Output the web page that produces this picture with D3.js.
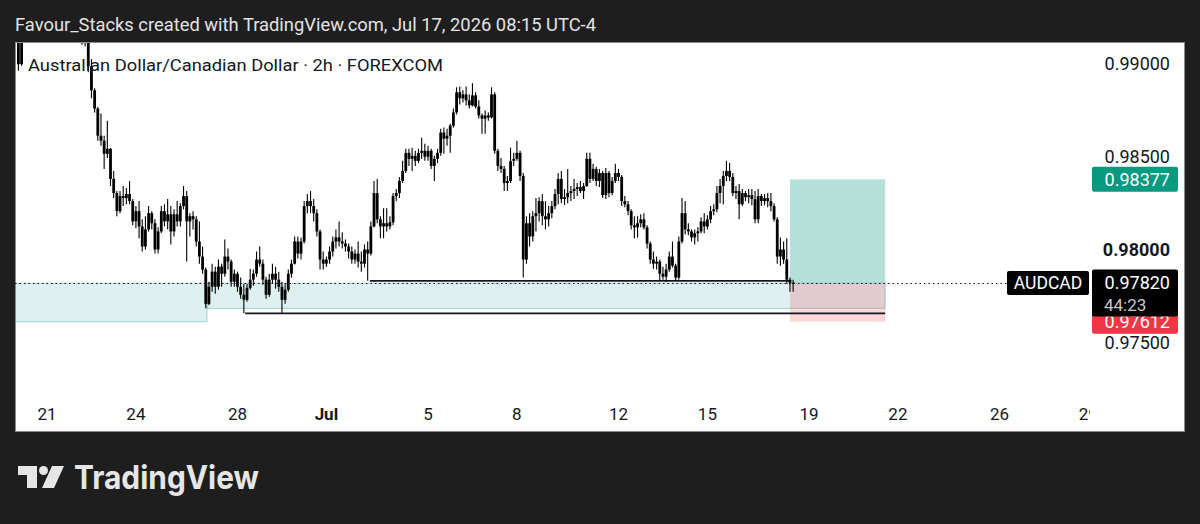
<!DOCTYPE html>
<html><head><meta charset="utf-8">
<script src="https://cdn.jsdelivr.net/npm/d3@7"></script>
<style>html,body{margin:0;padding:0;background:#1e1e1e;overflow:hidden}</style>
</head><body>
<svg id="c" width="1200" height="524"></svg>
<script>
// ---------- DATA ----------
const firstIndex = -9;  // bar index of first candle (index 0 = Jun 21 open)
// [open, high, low, close] per 2h bar
const candles = [
[0.99200,0.99230,0.98960,0.98995],[0.98995,0.99210,0.98985,0.99180],[0.99180,0.99240,0.99150,0.99220],
[0.99220,0.99280,0.99200,0.99260],[0.99260,0.99290,0.99210,0.99230],[0.99230,0.99270,0.99190,0.99250],
[0.99250,0.99310,0.99230,0.99290],[0.99290,0.99320,0.99250,0.99270],[0.99270,0.99300,0.99220,0.99240],
[0.99240,0.99280,0.99210,0.99260],[0.99260,0.99300,0.99230,0.99280],[0.99280,0.99330,0.99250,0.99310],
[0.99310,0.99340,0.99270,0.99290],[0.99290,0.99320,0.99240,0.99260],[0.99260,0.99290,0.99200,0.99220],
[0.99220,0.99260,0.99180,0.99240],[0.99240,0.99270,0.99190,0.99210],[0.99210,0.99240,0.99160,0.99190],
[0.99190,0.99220,0.99140,0.99170],[0.99170,0.99200,0.99110,0.99140],[0.99140,0.99180,0.99100,0.99130],
[0.99130,0.99160,0.99090,0.99110],[0.99110,0.99125,0.98952,0.98985],[0.98985,0.99022,0.98812,0.98855],
[0.98855,0.98866,0.98736,0.98757],[0.98757,0.98765,0.98584,0.98611],[0.98611,0.98730,0.98557,0.98584],
[0.98584,0.98611,0.98433,0.98514],[0.98514,0.98692,0.98492,0.98541],[0.98541,0.98545,0.98341,0.98379],
[0.98379,0.98422,0.98276,0.98303],[0.98303,0.98314,0.98179,0.98206],[0.98206,0.98314,0.98195,0.98287],
[0.98287,0.98341,0.98233,0.98276],[0.98276,0.98330,0.98243,0.98298],[0.98298,0.98368,0.98243,0.98260],
[0.98260,0.98271,0.98130,0.98151],[0.98151,0.98233,0.98114,0.98206],[0.98206,0.98260,0.98060,0.98124],
[0.98124,0.98162,0.97989,0.98016],[0.98016,0.98179,0.98000,0.98108],[0.98108,0.98233,0.98097,0.98195],
[0.98195,0.98206,0.98108,0.98141],[0.98141,0.98162,0.97978,0.98000],[0.98000,0.98119,0.97978,0.98097],
[0.98097,0.98233,0.98087,0.98206],[0.98206,0.98243,0.98124,0.98151],[0.98151,0.98271,0.98108,0.98189],
[0.98189,0.98233,0.98027,0.98097],[0.98097,0.98216,0.98070,0.98189],[0.98189,0.98260,0.98124,0.98151],
[0.98151,0.98249,0.98124,0.98233],[0.98233,0.98341,0.98216,0.98287],[0.98287,0.98314,0.97935,0.98151],
[0.98151,0.98195,0.98070,0.98179],[0.98179,0.98206,0.98108,0.98162],[0.98162,0.98179,0.98016,0.98043],
[0.98043,0.98151,0.97924,0.97962],[0.97962,0.98016,0.97870,0.97892],[0.97892,0.97903,0.97684,0.97708],
[0.97708,0.97827,0.97700,0.97800],[0.97800,0.97924,0.97773,0.97881],[0.97881,0.97908,0.97762,0.97800],
[0.97800,0.97946,0.97784,0.97908],[0.97908,0.97924,0.97800,0.97870],[0.97870,0.98054,0.97854,0.97962],
[0.97962,0.98005,0.97892,0.97935],[0.97935,0.97946,0.97800,0.97827],[0.97827,0.97892,0.97800,0.97870],
[0.97870,0.97881,0.97773,0.97800],[0.97800,0.97849,0.97735,0.97757],[0.97757,0.97816,0.97657,0.97730],
[0.97730,0.97816,0.97719,0.97794],[0.97794,0.97897,0.97784,0.97838],[0.97838,0.97892,0.97805,0.97870],
[0.97870,0.97989,0.97854,0.97946],[0.97946,0.98016,0.97908,0.97924],[0.97924,0.97946,0.97811,0.97838],
[0.97838,0.97854,0.97735,0.97757],[0.97757,0.97870,0.97746,0.97838],[0.97838,0.97924,0.97816,0.97870],
[0.97870,0.97908,0.97789,0.97838],[0.97838,0.97881,0.97773,0.97800],[0.97800,0.97827,0.97660,0.97730],
[0.97730,0.97816,0.97708,0.97784],[0.97784,0.97892,0.97773,0.97870],[0.97870,0.97946,0.97849,0.97924],
[0.97924,0.98070,0.97919,0.98043],[0.98043,0.98070,0.97951,0.97978],[0.97978,0.98065,0.97946,0.98043],
[0.98043,0.98260,0.98032,0.98233],[0.98233,0.98298,0.98195,0.98260],[0.98260,0.98314,0.98195,0.98233],
[0.98233,0.98271,0.98151,0.98195],[0.98195,0.98216,0.98070,0.98097],[0.98097,0.98108,0.97892,0.97946],
[0.97946,0.97989,0.97892,0.97924],[0.97924,0.97962,0.97908,0.97946],[0.97946,0.98016,0.97924,0.97989],
[0.97989,0.98070,0.97962,0.98043],[0.98043,0.98108,0.98005,0.98065],[0.98065,0.98151,0.98016,0.98043],
[0.98043,0.98092,0.98005,0.98032],[0.98032,0.98054,0.97989,0.98016],[0.98016,0.98032,0.97951,0.97989],
[0.97989,0.98016,0.97924,0.97946],[0.97946,0.98000,0.97924,0.97978],[0.97978,0.98043,0.97903,0.97935],
[0.97935,0.97989,0.97881,0.97924],[0.97924,0.98027,0.97903,0.98000],[0.98000,0.98043,0.97832,0.97978],
[0.97978,0.98151,0.97968,0.98124],[0.98124,0.98368,0.98119,0.98303],[0.98303,0.98379,0.98141,0.98162],
[0.98162,0.98179,0.98060,0.98124],[0.98124,0.98222,0.98060,0.98141],[0.98141,0.98222,0.98097,0.98124],
[0.98124,0.98179,0.98108,0.98146],[0.98146,0.98303,0.98130,0.98287],[0.98287,0.98325,0.98260,0.98303],
[0.98303,0.98390,0.98276,0.98368],[0.98368,0.98476,0.98357,0.98422],[0.98422,0.98541,0.98411,0.98519],
[0.98519,0.98541,0.98449,0.98487],[0.98487,0.98546,0.98422,0.98503],[0.98503,0.98530,0.98449,0.98476],
[0.98476,0.98541,0.98465,0.98519],[0.98519,0.98600,0.98487,0.98530],[0.98530,0.98568,0.98476,0.98498],
[0.98498,0.98557,0.98476,0.98530],[0.98530,0.98541,0.98433,0.98449],[0.98449,0.98503,0.98368,0.98487],
[0.98487,0.98541,0.98465,0.98519],[0.98519,0.98649,0.98503,0.98628],[0.98628,0.98655,0.98514,0.98595],
[0.98595,0.98649,0.98557,0.98611],[0.98611,0.98676,0.98519,0.98665],[0.98665,0.98757,0.98655,0.98736],
[0.98736,0.98871,0.98725,0.98844],[0.98844,0.98876,0.98779,0.98812],[0.98812,0.98855,0.98790,0.98833],
[0.98833,0.98876,0.98774,0.98801],[0.98801,0.98833,0.98757,0.98774],[0.98774,0.98893,0.98768,0.98828],
[0.98828,0.98844,0.98757,0.98768],[0.98768,0.98801,0.98703,0.98720],[0.98720,0.98730,0.98622,0.98703],
[0.98703,0.98747,0.98622,0.98720],[0.98720,0.98736,0.98692,0.98709],[0.98709,0.98871,0.98703,0.98833],
[0.98833,0.98844,0.98514,0.98530],[0.98530,0.98541,0.98422,0.98449],[0.98449,0.98492,0.98411,0.98433],
[0.98433,0.98449,0.98314,0.98357],[0.98357,0.98395,0.98314,0.98368],[0.98368,0.98546,0.98357,0.98476],
[0.98476,0.98519,0.98449,0.98487],[0.98487,0.98584,0.98476,0.98519],[0.98519,0.98530,0.98368,0.98395],
[0.98395,0.98411,0.97850,0.97946],[0.97946,0.98179,0.97924,0.98141],[0.98141,0.98195,0.98016,0.98070],
[0.98070,0.98206,0.98043,0.98179],[0.98179,0.98276,0.98097,0.98195],[0.98195,0.98281,0.98151,0.98260],
[0.98260,0.98298,0.98130,0.98179],[0.98179,0.98260,0.98108,0.98162],[0.98162,0.98233,0.98124,0.98195],
[0.98195,0.98260,0.98168,0.98233],[0.98233,0.98325,0.98216,0.98298],[0.98298,0.98411,0.98243,0.98379],
[0.98379,0.98422,0.98249,0.98271],[0.98271,0.98325,0.98238,0.98281],[0.98281,0.98433,0.98249,0.98303],
[0.98303,0.98341,0.98260,0.98314],[0.98314,0.98379,0.98271,0.98325],[0.98325,0.98357,0.98287,0.98335],
[0.98335,0.98368,0.98303,0.98314],[0.98314,0.98357,0.98271,0.98341],[0.98341,0.98519,0.98335,0.98487],
[0.98487,0.98519,0.98357,0.98379],[0.98379,0.98460,0.98368,0.98433],[0.98433,0.98444,0.98341,0.98368],
[0.98368,0.98433,0.98335,0.98411],[0.98411,0.98422,0.98276,0.98292],[0.98292,0.98438,0.98271,0.98411],
[0.98411,0.98422,0.98281,0.98303],[0.98303,0.98390,0.98292,0.98368],[0.98368,0.98460,0.98357,0.98411],
[0.98411,0.98433,0.98368,0.98390],[0.98390,0.98400,0.98233,0.98260],[0.98260,0.98287,0.98227,0.98243],
[0.98243,0.98260,0.98184,0.98206],[0.98206,0.98216,0.98108,0.98130],[0.98130,0.98179,0.98060,0.98119],
[0.98119,0.98179,0.98065,0.98141],[0.98141,0.98189,0.98119,0.98162],[0.98162,0.98195,0.98108,0.98119],
[0.98119,0.98130,0.98005,0.98032],[0.98032,0.98043,0.97924,0.97946],[0.97946,0.97989,0.97897,0.97924],
[0.97924,0.97962,0.97892,0.97935],[0.97935,0.97946,0.97832,0.97870],[0.97870,0.97908,0.97838,0.97854],
[0.97854,0.97924,0.97827,0.97892],[0.97892,0.97989,0.97881,0.97962],[0.97962,0.98043,0.97903,0.97913],
[0.97913,0.97924,0.97832,0.97849],[0.97849,0.98070,0.97838,0.98043],[0.98043,0.98276,0.98032,0.98195],
[0.98195,0.98260,0.98081,0.98108],[0.98108,0.98141,0.98076,0.98097],[0.98097,0.98108,0.98043,0.98065],
[0.98065,0.98108,0.98027,0.98087],[0.98087,0.98119,0.98043,0.98097],[0.98097,0.98173,0.98087,0.98151],
[0.98151,0.98195,0.98087,0.98124],[0.98124,0.98184,0.98108,0.98162],[0.98162,0.98233,0.98141,0.98206],
[0.98206,0.98243,0.98184,0.98216],[0.98216,0.98341,0.98200,0.98303],[0.98303,0.98379,0.98249,0.98341],
[0.98341,0.98422,0.98243,0.98395],[0.98395,0.98476,0.98368,0.98422],[0.98422,0.98465,0.98368,0.98390],
[0.98390,0.98411,0.98287,0.98303],[0.98303,0.98341,0.98271,0.98314],[0.98314,0.98352,0.98162,0.98243],
[0.98243,0.98325,0.98233,0.98303],[0.98303,0.98314,0.98260,0.98281],[0.98281,0.98325,0.98249,0.98292],
[0.98292,0.98325,0.98238,0.98271],[0.98271,0.98314,0.98141,0.98162],[0.98162,0.98325,0.98141,0.98287],
[0.98287,0.98298,0.98233,0.98260],[0.98260,0.98298,0.98238,0.98276],[0.98276,0.98303,0.98227,0.98260],
[0.98260,0.98303,0.98206,0.98233],[0.98233,0.98249,0.98151,0.98162],[0.98162,0.98173,0.97924,0.97962],
[0.97962,0.98065,0.97913,0.98000],[0.98000,0.98043,0.97924,0.97946],[0.97946,0.98060,0.97816,0.97838],
[0.97838,0.97849,0.97773,0.97822],[0.97822,0.97838,0.97773,0.97820]
];

const priceTicks = [0.99, 0.985, 0.98, 0.975];
const priceTickLabels = ["0.99000", "0.98500", "0.98000", "0.97500"];
const boldPriceLabel = "0.98000";

const timeTickIndex = [0, 28, 60, 88, 120, 148, 180, 208, 240, 268, 300, 328];
const timeTickLabels = ["21", "24", "28", "Jul", "5", "8", "12", "15", "19", "22", "26", "29"];
const boldTimeLabel = "Jul";

// demand zones (bar index range, price range)
const zoneStart = [-15, 50.4];
const zoneEnd = [50.4, 264];
const zoneTop = [0.97819, 0.97819];
const zoneBottom = [0.97612, 0.97684];

// horizontal levels
const levelStart = [101.7, 62.4];
const levelEnd = [234, 264];
const levelPrice = [0.97832, 0.97657];

// long position tool
const positionStart = 234, positionEnd = 264;
const entryPrice = 0.97820, targetPrice = 0.98377, stopPrice = 0.97612;
const lastPriceLabel = "0.97820", countdownLabel = "44:23", targetLabel = "0.98377", stopLabel = "0.97612";
const symbolLabel = "AUDCAD";

const headerText = "Favour_Stacks created with TradingView.com, Jul 17, 2026 08:15 UTC-4";
const legendText = "Australian Dollar/Canadian Dollar · 2h · FOREXCOM";
const brandText = "TradingView";

// ---------- LAYOUT ----------
const W = 1200, H = 524;
const frame = {x: 15, y: 42, w: 1170, h: 390};
const plot = {left: 15, right: 1090, top: 42, bottom: 392};
const FONT = "Roboto, 'Noto Sans', sans-serif";

const svg = d3.select("#c");
svg.append("rect").attr("width", W).attr("height", H).attr("fill", "#1e1e1e");
svg.append("rect").attr("x", frame.x + 0.5).attr("y", frame.y + 0.5).attr("width", frame.w - 1).attr("height", frame.h - 1)
  .attr("fill", "#ffffff").attr("stroke", "#8a8a8a").attr("stroke-width", 1);

svg.append("text").attr("x", 15).attr("y", 31).attr("fill", "#e3e3e3")
  .attr("font-family", FONT).attr("font-size", 19).attr("textLength", 581).attr("lengthAdjust", "spacingAndGlyphs")
  .text(headerText);

const x = d3.scaleLinear().domain([0, 240]).range([47, 809]);
const y = d3.scaleLinear().domain([0.975, 0.99]).range([342.6, 63.3]);

const defs = svg.append("defs");
defs.append("clipPath").attr("id", "plotClip").append("rect")
  .attr("x", plot.left + 1).attr("y", plot.top + 1).attr("width", plot.right - plot.left - 1).attr("height", plot.bottom - plot.top);
defs.append("clipPath").attr("id", "timeClip").append("rect")
  .attr("x", plot.left).attr("y", plot.bottom).attr("width", plot.right - plot.left).attr("height", 40);

const g = svg.append("g").attr("clip-path", "url(#plotClip)");

// zones
const zones = zoneStart.map((s, k) => ({s, e: zoneEnd[k], t: zoneTop[k], b: zoneBottom[k]}));
g.selectAll("rect.zone").data(zones).join("rect").attr("class", "zone")
  .attr("x", d => x(d.s)).attr("width", d => x(d.e) - x(d.s))
  .attr("y", d => y(d.t)).attr("height", d => y(d.b) - y(d.t))
  .attr("fill", "rgba(0,150,136,0.13)").attr("stroke", "rgba(0,150,136,0.35)").attr("stroke-width", 1);

// position tool
g.append("rect").attr("x", x(positionStart)).attr("width", x(positionEnd) - x(positionStart))
  .attr("y", y(targetPrice)).attr("height", y(entryPrice) - y(targetPrice)).attr("fill", "rgba(8,153,129,0.3)");
g.append("rect").attr("x", x(positionStart)).attr("width", x(positionEnd) - x(positionStart))
  .attr("y", y(entryPrice)).attr("height", y(stopPrice) - y(entryPrice)).attr("fill", "rgba(242,54,69,0.2)");

// levels
const levels = levelStart.map((s, k) => ({s, e: levelEnd[k], p: levelPrice[k]}));
g.selectAll("line.level").data(levels).join("line").attr("class", "level")
  .attr("x1", d => x(d.s)).attr("x2", d => x(d.e)).attr("y1", d => y(d.p)).attr("y2", d => y(d.p))
  .attr("stroke", "#131722").attr("stroke-width", 1.7);

// last price dotted line
svg.append("line").attr("x1", plot.left).attr("x2", 1007).attr("y1", Math.round(y(entryPrice)) + 0.5).attr("y2", Math.round(y(entryPrice)) + 0.5)
  .attr("stroke", "#131722").attr("stroke-width", 1.2).attr("stroke-dasharray", "1.5 3");

// legend
svg.append("text").attr("x", 28).attr("y", 71).attr("fill", "#131722")
  .attr("font-family", FONT).attr("font-size", 17).attr("textLength", 415).attr("lengthAdjust", "spacingAndGlyphs")
  .text(legendText);

// candles
const data = candles.map((c, k) => ({i: firstIndex + k, o: c[0], h: c[1], l: c[2], c: c[3]}));
g.selectAll("line.wick").data(data).join("line").attr("class", "wick")
  .attr("x1", d => x(d.i)).attr("x2", d => x(d.i)).attr("y1", d => y(d.h)).attr("y2", d => y(d.l))
  .attr("stroke", "#000").attr("stroke-width", 1.1);
g.selectAll("rect.body").data(data).join("rect").attr("class", "body")
  .attr("x", d => x(d.i) - 1.4).attr("width", 2.8)
  .attr("y", d => y(Math.max(d.o, d.c))).attr("height", d => Math.max(1.2, Math.abs(y(d.o) - y(d.c))))
  .attr("fill", "#000");

// price axis labels
svg.selectAll("text.ptick").data(priceTicks).join("text").attr("class", "ptick")
  .attr("x", 1170).attr("y", d => y(d)).attr("dy", "0.35em").attr("text-anchor", "end")
  .attr("font-family", FONT).attr("font-size", 18).attr("fill", "#131722")
  .attr("font-weight", (d, k) => priceTickLabels[k] === boldPriceLabel ? "bold" : "normal")
  .text((d, k) => priceTickLabels[k]);

// price tags
function tag(price, h, fill, label) {
  const cy = y(price);
  svg.append("rect").attr("x", 1092).attr("y", cy - h / 2).attr("width", 86).attr("height", h).attr("rx", 2).attr("fill", fill);
  svg.append("text").attr("x", 1170).attr("y", cy).attr("dy", "0.35em").attr("text-anchor", "end")
    .attr("font-family", FONT).attr("font-size", 18).attr("fill", "#ffffff").text(label);
}
tag(targetPrice, 25, "#089981", targetLabel);
tag(stopPrice, 24, "#f23645", stopLabel);
// last price tag with countdown
const ly = y(entryPrice);
svg.append("rect").attr("x", 1092).attr("y", ly - 13.5).attr("width", 86).attr("height", 47).attr("rx", 2).attr("fill", "#000");
svg.append("text").attr("x", 1170).attr("y", ly).attr("dy", "0.35em").attr("text-anchor", "end")
  .attr("font-family", FONT).attr("font-size", 18).attr("fill", "#ffffff").text(lastPriceLabel);
svg.append("text").attr("x", 1104).attr("y", ly + 22).attr("dy", "0.35em").attr("text-anchor", "start")
  .attr("font-family", FONT).attr("font-size", 17).attr("fill", "#c5c7cc").text(countdownLabel);
// symbol tag
svg.append("rect").attr("x", 1007).attr("y", ly - 12).attr("width", 82).attr("height", 24).attr("rx", 2).attr("fill", "#000");
svg.append("text").attr("x", 1048).attr("y", ly).attr("dy", "0.35em").attr("text-anchor", "middle")
  .attr("font-family", FONT).attr("font-size", 17.5).attr("fill", "#ffffff").text(symbolLabel);

// time axis
svg.append("g").attr("clip-path", "url(#timeClip)").selectAll("text.ttick").data(timeTickIndex).join("text").attr("class", "ttick")
  .attr("x", d => x(d)).attr("y", 414).attr("dy", "0.35em").attr("text-anchor", "middle")
  .attr("font-family", FONT).attr("font-size", 17).attr("fill", "#131722")
  .attr("font-weight", (d, k) => timeTickLabels[k] === boldTimeLabel ? "bold" : "normal")
  .text((d, k) => timeTickLabels[k]);

// footer brand
const logo = svg.append("g").attr("fill", "#e6e6e6");
logo.append("path").attr("d", "M18,466 H37 V488 H27 V475 H18 Z");
logo.append("circle").attr("cx", 43.5).attr("cy", 470.5).attr("r", 4.5);
logo.append("path").attr("d", "M52,466 H64 L54,488 H42 Z");
svg.append("text").attr("x", 74).attr("y", 489).attr("fill", "#e6e6e6")
  .attr("font-family", "Inter, Roboto, sans-serif").attr("font-weight", "bold").attr("font-size", 33)
  .attr("textLength", 185).attr("lengthAdjust", "spacingAndGlyphs").text(brandText);
</script>
</body></html>
